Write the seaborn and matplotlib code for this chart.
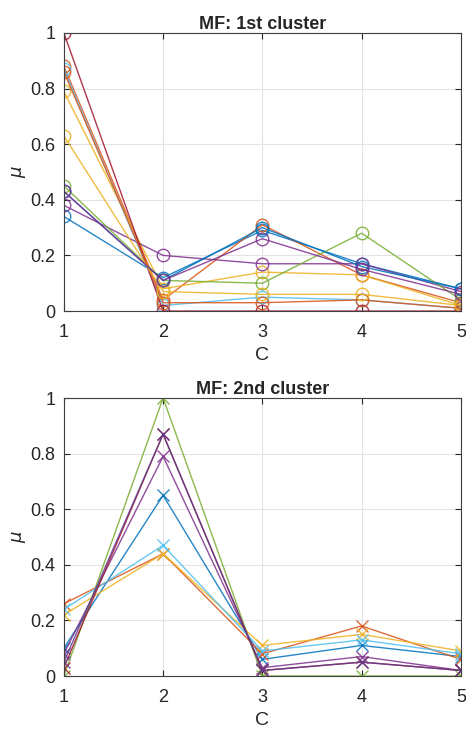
import numpy as np
import pandas as pd
from matplotlib import pyplot as plt
import seaborn as sns

sns.set_style('whitegrid')
plt.rcParams['font.family'] = ['Liberation Sans', 'DejaVu Sans']

C = [1, 2, 3, 4, 5]

# MATLAB default colour order
matlab_colors = ['#0072BD', '#D95319', '#EDB120', '#7E2F8E', '#77AC30', '#4DBEEE', '#A2142F']

# membership values, 1st cluster (one row per line)
mf1 = [
    [0.34, 0.12, 0.29, 0.17, 0.08],
    [0.88, 0.04, 0.31, 0.13, 0.03],
    [0.79, 0.08, 0.14, 0.13, 0.02],
    [0.38, 0.20, 0.17, 0.17, 0.07],
    [0.45, 0.11, 0.10, 0.28, 0.04],
    [0.87, 0.02, 0.05, 0.04, 0.01],
    [1.00, 0.00, 0.00, 0.00, 0.00],
    [0.43, 0.11, 0.30, 0.16, 0.08],
    [0.86, 0.03, 0.03, 0.04, 0.01],
    [0.63, 0.07, 0.06, 0.06, 0.02],
    [0.43, 0.11, 0.26, 0.15, 0.06],
]

# membership values, 2nd cluster
mf2 = [
    [0.10, 0.65, 0.06, 0.11, 0.07],
    [0.26, 0.44, 0.08, 0.18, 0.06],
    [0.22, 0.44, 0.11, 0.15, 0.09],
    [0.08, 0.79, 0.03, 0.07, 0.02],
    [0.00, 1.00, 0.00, 0.00, 0.00],
    [0.24, 0.47, 0.09, 0.13, 0.08],
    [0.03, 0.87, 0.02, 0.05, 0.02],
    [0.05, 0.87, 0.02, 0.05, 0.02],
]
mf2_colors = matlab_colors + ['#5E3A8C']


def draw_panel(ax, rows, marker, colors, title):
    for i, vals in enumerate(rows):
        col = colors[i % len(colors)]
        sns.lineplot(x=C, y=vals, ax=ax, color=col, lw=1.0, alpha=0.85,
                     marker=marker, markersize=9 if marker == 'o' else 8,
                     markerfacecolor='none', markeredgecolor=col, markeredgewidth=1.0)
    ax.set_xlim(1, 5)
    ax.set_ylim(0, 1)
    ax.set_xticks(C)
    ax.set_yticks([0, 0.2, 0.4, 0.6, 0.8, 1])
    ax.set_yticklabels(['0', '0.2', '0.4', '0.6', '0.8', '1'])
    ax.grid(True, color='#e3e3e3', lw=0.8)
    for s in ax.spines.values():
        s.set_color('#404040')
        s.set_linewidth(0.8)
    ax.tick_params(direction='in', length=4, top=True, right=True, labelsize=13,
                   colors='#262626', bottom=True, left=True)
    ax.tick_params(axis='x', pad=9)
    ax.tick_params(axis='y', pad=6)
    ax.set_xlabel('C', fontsize=14, color='#262626', labelpad=5)
    ax.set_ylabel(r'$\mu$', fontsize=13, color='#262626', labelpad=2)
    ax.set_title(title, fontsize=13, fontweight='bold', pad=3)


f = plt.figure(figsize=(4.66, 7.31), dpi=100)
ax1 = f.add_axes([0.137, 0.5745, 0.852, 0.3805])
ax2 = f.add_axes([0.137, 0.0752, 0.852, 0.3803])

draw_panel(ax1, mf1, 'o', matlab_colors, 'MF: 1st cluster')
draw_panel(ax2, mf2, 'x', mf2_colors, 'MF: 2nd cluster')

f.savefig('out.png', dpi=100)
